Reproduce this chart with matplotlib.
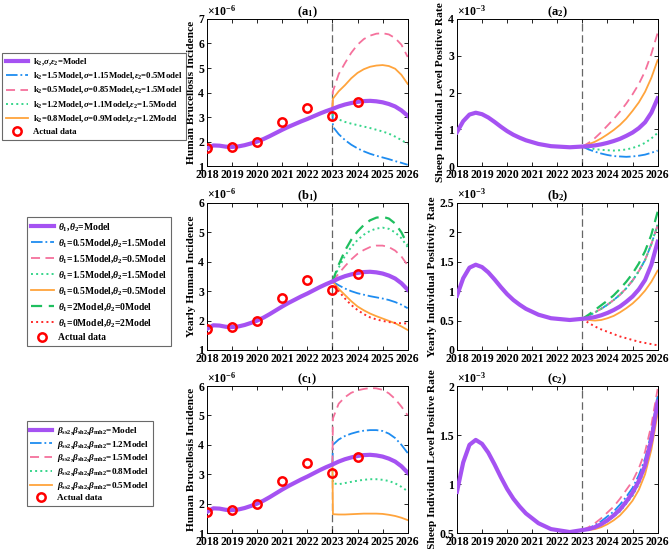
import matplotlib
matplotlib.use("Agg")
import matplotlib.pyplot as plt

plt.rcParams['font.family'] = ['Liberation Serif', 'DejaVu Serif']
plt.rcParams['font.weight'] = 'bold'
plt.rcParams['mathtext.fontset'] = 'custom'
plt.rcParams['mathtext.rm'] = 'Liberation Serif:bold'
plt.rcParams['mathtext.it'] = 'Liberation Serif:italic:bold'
plt.rcParams['mathtext.bf'] = 'Liberation Serif:bold'

# ---- time grids ----
yrs = [2018.0, 2018.25, 2018.5, 2018.75, 2019.0, 2019.25, 2019.5, 2019.75,
       2020.0, 2020.25, 2020.5, 2020.75, 2021.0, 2021.25, 2021.5, 2021.75,
       2022.0, 2022.25, 2022.5, 2022.75, 2023.0, 2023.25, 2023.5, 2023.75,
       2024.0, 2024.25, 2024.5, 2024.75, 2025.0, 2025.25, 2025.5, 2025.75, 2026.0]
yrs_fut = [2023.0, 2023.25, 2023.5, 2023.75, 2024.0, 2024.25, 2024.5, 2024.75,
           2025.0, 2025.25, 2025.5, 2025.75, 2026.0]
yrs_jump = [2023.0, 2023.02, 2023.25, 2023.5, 2023.75, 2024.0, 2024.25, 2024.5,
            2024.75, 2025.0, 2025.25, 2025.5, 2025.75, 2026.0]

# ---- actual data (x1e-6) ----
data_years = [2018, 2019, 2020, 2021, 2022, 2023, 2024]
data_human = [1.72, 1.78, 1.98, 2.78, 3.37, 3.04, 3.60]

# ---- baseline model ----
model_human = [1.72, 1.84, 1.83, 1.79, 1.78, 1.80, 1.85, 1.92,
               2.00, 2.10, 2.22, 2.35, 2.48, 2.60, 2.71, 2.82,
               2.92, 3.03, 3.14, 3.24, 3.33, 3.43, 3.51, 3.57,
               3.62, 3.65, 3.66, 3.64, 3.60, 3.53, 3.43, 3.27, 3.05]
model_sheep = [0.92, 1.22, 1.40, 1.45, 1.41, 1.32, 1.20, 1.07,
               0.95, 0.85, 0.77, 0.70, 0.65, 0.60, 0.57, 0.54,
               0.53, 0.52, 0.51, 0.52, 0.53, 0.54, 0.56, 0.59,
               0.63, 0.68, 0.74, 0.82, 0.91, 1.03, 1.19, 1.45, 1.84]

# ---- (a) k2, sigma, eps2 scenarios ----
a1_blue = [3.33, 2.60, 2.30, 2.06, 1.87, 1.72, 1.60, 1.50, 1.42, 1.35, 1.28, 1.20, 1.13, 1.05]
a1_pink = [3.33, 4.05, 4.75, 5.20, 5.62, 5.95, 6.18, 6.32, 6.40, 6.42, 6.37, 6.22, 5.95, 5.45]
a1_green = [3.33, 3.00, 2.90, 2.80, 2.73, 2.67, 2.61, 2.55, 2.48, 2.41, 2.32, 2.20, 2.06, 1.90]
a1_orange = [3.33, 3.75, 4.05, 4.30, 4.58, 4.80, 4.95, 5.05, 5.10, 5.12, 5.08, 4.97, 4.72, 4.35]
a2_blue = [0.53, 0.45, 0.39, 0.34, 0.30, 0.27, 0.26, 0.25, 0.26, 0.28, 0.31, 0.36, 0.42]
a2_pink = [0.53, 0.63, 0.76, 0.92, 1.10, 1.28, 1.48, 1.70, 1.95, 2.23, 2.58, 3.05, 3.62]
a2_green = [0.53, 0.49, 0.46, 0.44, 0.43, 0.42, 0.43, 0.45, 0.49, 0.55, 0.63, 0.75, 0.90]
a2_orange = [0.53, 0.59, 0.66, 0.75, 0.86, 0.98, 1.12, 1.29, 1.50, 1.73, 2.02, 2.40, 2.88]

# ---- (b) theta1, theta2 scenarios ----
b1_blue = [3.33, 3.20, 3.09, 3.00, 2.93, 2.88, 2.83, 2.79, 2.75, 2.70, 2.63, 2.54, 2.42]
b1_pink = [3.33, 3.60, 3.85, 4.08, 4.27, 4.40, 4.50, 4.55, 4.55, 4.50, 4.38, 4.18, 3.88]
b1_green = [3.33, 3.80, 4.20, 4.50, 4.74, 4.92, 5.05, 5.13, 5.16, 5.12, 5.00, 4.80, 4.50]
b1_orange = [3.33, 3.08, 2.87, 2.66, 2.48, 2.35, 2.24, 2.15, 2.07, 1.99, 1.91, 1.80, 1.68]
b1_dgreen = [3.33, 3.90, 4.38, 4.75, 5.03, 5.25, 5.41, 5.50, 5.53, 5.47, 5.30, 5.00, 4.58]
b1_red = [3.33, 3.00, 2.75, 2.53, 2.36, 2.22, 2.11, 2.04, 1.99, 1.95, 1.92, 1.91, 1.90]
b2_blue = [0.53, 0.58, 0.64, 0.70, 0.77, 0.85, 0.94, 1.05, 1.18, 1.34, 1.53, 1.80, 2.12]
b2_pink = [0.53, 0.58, 0.64, 0.70, 0.77, 0.85, 0.94, 1.05, 1.18, 1.34, 1.53, 1.80, 2.12]
b2_green = [0.53, 0.58, 0.64, 0.70, 0.77, 0.85, 0.94, 1.05, 1.18, 1.34, 1.53, 1.80, 2.13]
b2_orange = [0.53, 0.51, 0.50, 0.51, 0.54, 0.58, 0.64, 0.71, 0.79, 0.89, 1.01, 1.16, 1.35]
b2_dgreen = [0.53, 0.60, 0.68, 0.76, 0.84, 0.93, 1.04, 1.16, 1.30, 1.47, 1.68, 1.96, 2.35]
b2_red = [0.53, 0.46, 0.40, 0.35, 0.31, 0.27, 0.23, 0.20, 0.17, 0.14, 0.12, 0.10, 0.08]

# ---- (c) beta scenarios ----
c1_blue = [3.33, 4.00, 4.18, 4.30, 4.38, 4.44, 4.48, 4.50, 4.50, 4.47, 4.38, 4.23, 4.00, 3.72]
c1_pink = [3.33, 4.90, 5.40, 5.62, 5.77, 5.85, 5.90, 5.93, 5.92, 5.87, 5.75, 5.56, 5.30, 5.00]
c1_green = [3.33, 2.69, 2.66, 2.70, 2.74, 2.78, 2.81, 2.83, 2.83, 2.81, 2.77, 2.69, 2.57, 2.42]
c1_orange = [3.33, 1.64, 1.63, 1.63, 1.64, 1.65, 1.66, 1.66, 1.66, 1.65, 1.62, 1.58, 1.52, 1.44]
c2_blue = [0.53, 0.55, 0.58, 0.62, 0.67, 0.72, 0.79, 0.87, 0.96, 1.09, 1.26, 1.52, 1.90]
c2_pink = [0.53, 0.56, 0.60, 0.65, 0.71, 0.77, 0.85, 0.94, 1.03, 1.16, 1.33, 1.60, 1.97]
c2_green = [0.53, 0.54, 0.56, 0.59, 0.62, 0.67, 0.72, 0.80, 0.88, 1.00, 1.16, 1.42, 1.80]
c2_orange = [0.53, 0.53, 0.54, 0.56, 0.59, 0.63, 0.68, 0.75, 0.83, 0.94, 1.10, 1.35, 1.72]

labels_a = [r'k$_2$,$\sigma$,$\varepsilon_2$=Model',
            r'k$_2$=1.5Model,$\sigma$=1.15Model,$\varepsilon_2$=0.5Model',
            r'k$_2$=0.5Model,$\sigma$=0.85Model,$\varepsilon_2$=1.5Model',
            r'k$_2$=1.2Model,$\sigma$=1.1Model,$\varepsilon_2$=1.5Model',
            r'k$_2$=0.8Model,$\sigma$=0.9Model,$\varepsilon_2$=1.2Model']
labels_b = [r'$\theta_1$,$\theta_2$=Model',
            r'$\theta_1$=0.5Model,$\theta_2$=1.5Model',
            r'$\theta_1$=1.5Model,$\theta_2$=0.5Model',
            r'$\theta_1$=1.5Model,$\theta_2$=1.5Model',
            r'$\theta_1$=0.5Model,$\theta_2$=0.5Model',
            r'$\theta_1$=2Model,$\theta_2$=0Model',
            r'$\theta_1$=0Model,$\theta_2$=2Model']
bb = r'$\beta_{\mathrm{ss2}}$,$\beta_{\mathrm{sh2}}$,$\beta_{\mathrm{mh2}}$'
labels_c = [bb + '=Model', bb + '=1.2Model', bb + '=1.5Model',
            bb + '=0.8Model', bb + '=0.5Model']

PURPLE = '#A552F2'
BLUE = '#1E8CF0'
PINK = '#F5719C'
LGREEN = '#36D58A'
ORANGE = '#FFA43C'
DGREEN = '#1FBF5F'
RED = '#FF2A2A'

styles = {
    'blue': dict(color=BLUE, ls='-.', lw=1.3),
    'pink': dict(color=PINK, ls=(0, (5, 3)), lw=1.3),
    'green': dict(color=LGREEN, ls=':', lw=1.4),
    'orange': dict(color=ORANGE, ls='-', lw=1.3),
    'dgreen': dict(color=DGREEN, ls=(0, (5, 3)), lw=1.6),
    'red': dict(color=RED, ls=':', lw=1.4),
}

fig = plt.figure(figsize=(6.69, 5.49), dpi=100)
W = 0.300
H = 0.2678
lefts = [0.3094, 0.683]
bottoms = [0.6976, 0.3625, 0.0291]

def style_ax(ax, ylim, yticks, ylabel, title, exp):
    ax.set_xlim(2018, 2026)
    ax.set_ylim(*ylim)
    ax.set_xticks(range(2018, 2027))
    ax.set_yticks(yticks)
    ax.tick_params(direction='in', top=True, right=True, labelsize=8.5, length=3, width=0.6, pad=2)
    for lab in ax.get_xticklabels() + ax.get_yticklabels():
        lab.set_fontweight('bold')
    ax.set_ylabel(ylabel, fontsize=8.2, fontweight='bold', labelpad=2)
    ax.set_title(title, fontsize=9, fontweight='bold', pad=3)
    ax.text(0.0, 1.006, r'$\times\mathregular{10^{%d}}$' % exp, transform=ax.transAxes,
            fontsize=8.5, ha='left', va='bottom')
    ax.axvline(2023, color='#666666', ls=(0, (6, 3)), lw=0.9, zorder=1)
    for s in ax.spines.values():
        s.set_linewidth(0.7)

def fmt(v):
    return ('%g' % v)

def add_legend(handles, labels, anchor, fs, spacing, hl):
    leg = fig.legend(handles, labels, loc='upper left', bbox_to_anchor=anchor,
                     fontsize=fs, frameon=True, fancybox=False, edgecolor='#444444',
                     handlelength=hl, labelspacing=spacing, borderpad=0.4,
                     handletextpad=0.5, borderaxespad=0)
    leg.get_frame().set_linewidth(0.8)
    return leg

# ---------- row a ----------
ax = fig.add_axes([lefts[0], bottoms[0], W, H])
h = [ax.plot(yrs, model_human, color=PURPLE, lw=3, zorder=3)[0]]
for key, vals in [('blue', a1_blue), ('pink', a1_pink), ('green', a1_green), ('orange', a1_orange)]:
    h.append(ax.plot(yrs_jump, vals, zorder=2, **styles[key])[0])
h.append(ax.plot(data_years, data_human, 'o', mfc='none', mec='red', mew=1.8, ms=6, zorder=4)[0])
style_ax(ax, (1, 7), range(1, 8), 'Human Brucellosis Incidence', r'(a$_1$)', -6)
add_legend(h, labels_a + ['Actual data'], (0.003, 0.9035), 6.3, 0.37, 2.6)

ax = fig.add_axes([lefts[1], bottoms[0], W, H])
ax.plot(yrs, model_sheep, color=PURPLE, lw=3, zorder=3)
for key, vals in [('blue', a2_blue), ('pink', a2_pink), ('green', a2_green), ('orange', a2_orange)]:
    ax.plot(yrs_fut, vals, zorder=2, **styles[key])
style_ax(ax, (0, 4), range(0, 5), 'Sheep Individual Level Positive Rate', r'(a$_2$)', -3)

# ---------- row b ----------
ax = fig.add_axes([lefts[0], bottoms[1], W, H])
h = [ax.plot(yrs, model_human, color=PURPLE, lw=3, zorder=3)[0]]
for key, vals in [('blue', b1_blue), ('pink', b1_pink), ('green', b1_green), ('orange', b1_orange),
                  ('dgreen', b1_dgreen), ('red', b1_red)]:
    h.append(ax.plot(yrs_fut, vals, zorder=2, **styles[key])[0])
h.append(ax.plot(data_years, data_human, 'o', mfc='none', mec='red', mew=1.8, ms=6, zorder=4)[0])
style_ax(ax, (1, 6), range(1, 7), 'Yearly Human Incidence', r'(b$_1$)', -6)
add_legend(h, labels_b + ['Actual data'], (0.040, 0.605), 6.9, 0.42, 2.4)

ax = fig.add_axes([lefts[1], bottoms[1], W, H])
ax.plot(yrs, model_sheep, color=PURPLE, lw=3, zorder=3)
for key, vals in [('blue', b2_blue), ('pink', b2_pink), ('green', b2_green), ('orange', b2_orange),
                  ('dgreen', b2_dgreen), ('red', b2_red)]:
    ax.plot(yrs_fut, vals, zorder=2, **styles[key])
style_ax(ax, (0, 2.5), [0, 0.5, 1, 1.5, 2, 2.5], 'Yearly Individual Positivity Rate', r'(b$_2$)', -3)
ax.set_yticklabels([fmt(v) for v in [0, 0.5, 1, 1.5, 2, 2.5]])

# ---------- row c ----------
ax = fig.add_axes([lefts[0], bottoms[2], W, H])
h = [ax.plot(yrs, model_human, color=PURPLE, lw=3, zorder=3)[0]]
for key, vals in [('blue', c1_blue), ('pink', c1_pink), ('green', c1_green), ('orange', c1_orange)]:
    h.append(ax.plot(yrs_jump, vals, zorder=2, **styles[key])[0])
h.append(ax.plot(data_years, data_human, 'o', mfc='none', mec='red', mew=1.8, ms=6, zorder=4)[0])
style_ax(ax, (1, 6), range(1, 7), 'Human Brucellosis Incidence', r'(c$_1$)', -6)
add_legend(h, labels_c + ['Actual data'], (0.040, 0.233), 6.6, 0.2, 2.4)

ax = fig.add_axes([lefts[1], bottoms[2], W, H])
ax.plot(yrs, model_sheep, color=PURPLE, lw=3, zorder=3)
for key, vals in [('blue', c2_blue), ('pink', c2_pink), ('green', c2_green), ('orange', c2_orange)]:
    ax.plot(yrs_fut, vals, zorder=2, **styles[key])
style_ax(ax, (0.5, 2), [0.5, 1, 1.5, 2], 'Sheep Individual Level Positive Rate', r'(c$_2$)', -3)
ax.set_yticklabels([fmt(v) for v in [0.5, 1, 1.5, 2]])

fig.savefig('out.png', dpi=100)
